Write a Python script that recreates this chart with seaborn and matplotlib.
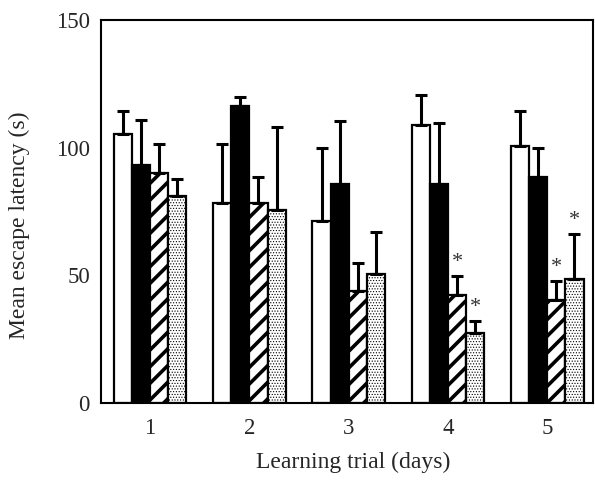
import numpy as np
import pandas as pd
import matplotlib.pyplot as plt
import seaborn as sns

days = ["1", "2", "3", "4", "5"]
groups = ["g1", "g2", "g3", "g4"]

# means, one list per bar style
white_mean = [105.4, 78.3, 71.1, 108.9, 100.7]
black_mean = [93.1, 116.3, 85.6, 85.9, 88.5]
hatch_mean = [90.0, 78.3, 44.0, 42.2, 40.2]
dot_mean = [81.2, 75.4, 50.7, 27.3, 48.6]

# upper error bars
white_err = [8.8, 23.1, 28.8, 11.9, 13.8]
black_err = [17.7, 3.7, 24.7, 23.9, 11.5]
hatch_err = [11.4, 10.3, 10.7, 7.5, 7.4]
dot_err = [6.7, 32.7, 16.4, 4.8, 17.7]

# significance marks
hatch_star = [False, False, False, True, True]
dot_star = [False, False, False, True, True]
white_star = [False] * 5
black_star = [False] * 5

df = pd.DataFrame({
    "day": days * 4,
    "group": np.repeat(groups, 5),
    "latency": white_mean + black_mean + hatch_mean + dot_mean,
})
errs = [white_err, black_err, hatch_err, dot_err]
stars = [white_star, black_star, hatch_star, dot_star]

sns.set_style("white")
plt.rcParams["font.family"] = ["Liberation Serif", "DejaVu Serif"]
plt.rcParams["hatch.linewidth"] = 2.6

fig = plt.figure(figsize=(5.95, 4.8), dpi=100)
ax = fig.add_axes([0.1697, 0.1604, 0.8269, 0.798])

sns.barplot(data=df, x="day", y="latency", hue="group", width=0.73,
            palette=["white", "black", "white", "white"], saturation=1,
            edgecolor="black", linewidth=1.6, errorbar=None, legend=False, ax=ax)

hatches = [None, None, "//", "......"]
bar_groups = list(ax.containers)
for i, cont in enumerate(bar_groups):
    xs = []
    ys = []
    for bar in cont:
        if hatches[i]:
            bar.set_hatch(hatches[i])
            if i == 3 and hasattr(bar, "set_hatch_linewidth"):
                bar.set_hatch_linewidth(0.5)
        xs.append(bar.get_x() + bar.get_width() / 2)
        ys.append(bar.get_height())
    ax.errorbar(xs, ys, yerr=[np.zeros(5), errs[i]], fmt="none", ecolor="black",
                elinewidth=2.2, capsize=4, capthick=2.2, zorder=1)
    for x, y, e, s in zip(xs, ys, errs[i], stars[i]):
        if s:
            ax.annotate("*", (x, y + e), xytext=(0, 3), textcoords="offset points",
                        ha="center", va="bottom", fontsize=16, color="#333333")

ax.set_ylim(0, 150)
ax.set_xlim(-0.495, 4.46)
ax.set_yticks([0, 50, 100, 150])
ax.set_yticks([25, 75, 125], minor=True)
ax.tick_params(axis="y", which="both", direction="in", length=6, width=1.5,
               labelsize=16.5, pad=8)
ax.tick_params(axis="x", length=0, labelsize=16.5, pad=11)
for sp in ax.spines.values():
    sp.set_visible(True)
    sp.set_linewidth(1.5)
    sp.set_color("black")
ax.set_xlabel("Learning trial (days)", fontsize=17)
ax.set_ylabel("Mean escape latency (s)", fontsize=17)
ax.xaxis.set_label_coords(0.512, -0.128)
ax.yaxis.set_label_coords(-0.144, 0.465)

fig.savefig("out.png", dpi=100)
